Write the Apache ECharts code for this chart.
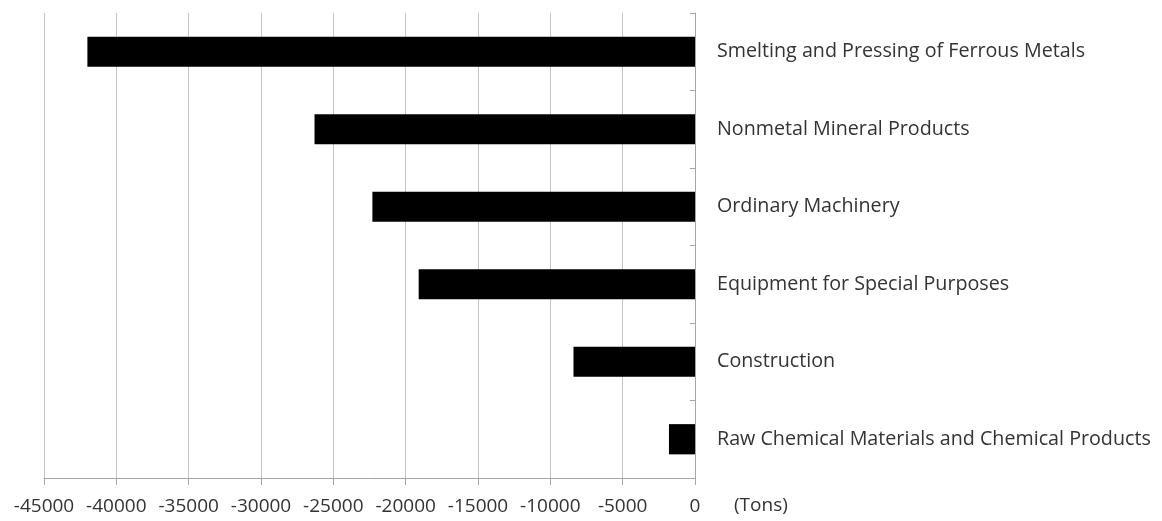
<!DOCTYPE html>
<html>
<head>
<meta charset="utf-8">
<script src="https://cdn.jsdelivr.net/npm/echarts@6/dist/echarts.min.js"></script>
<style>
  html, body { margin: 0; padding: 0; background: #fff; }
  #chart { width: 1162px; height: 521px; }
</style>
</head>
<body>
<div id="chart"></div>
<script>
const categories = [
  'Smelting and Pressing of Ferrous Metals',
  'Nonmetal Mineral Products',
  'Ordinary Machinery',
  'Equipment for Special Purposes',
  'Construction',
  'Raw Chemical Materials and Chemical Products'
]
const values = [-42000, -26300, -22300, -19100, -8400, -1800]
const axisMin = -45000
const axisMax = 0
const axisStep = 5000
const unitLabel = '(Tons)'

const chart = echarts.init(document.getElementById('chart'))

const textFont = 'Open Sans'

chart.setOption({
  animation: false,
  grid: { left: 44, right: 467, top: 13, bottom: 43 },
  xAxis: {
    type: 'value',
    min: axisMin,
    max: axisMax,
    interval: axisStep,
    axisLine: { show: true, lineStyle: { color: '#a6a6a6', width: 1 } },
    axisTick: { show: true, length: 7, lineStyle: { color: '#a6a6a6' } },
    axisLabel: {
      color: '#333',
      fontSize: 19,
      fontFamily: textFont,
      margin: 19,
      formatter: (v) => String(v)
    },
    splitLine: { show: true, lineStyle: { color: '#c4c4c4', width: 1 } }
  },
  yAxis: {
    type: 'category',
    data: categories,
    inverse: true,
    position: 'right',
    axisLine: { show: true, lineStyle: { color: '#a6a6a6', width: 1 } },
    axisTick: { show: true, inside: true, length: 5, lineStyle: { color: '#a6a6a6' } },
    axisLabel: { color: '#333', fontSize: 19.7, fontFamily: textFont, margin: 22, padding: [3, 0, 0, 0] },
    splitLine: { show: false }
  },
  series: [{
    type: 'bar',
    data: values,
    barWidth: '39%',
    itemStyle: { color: '#000' }
  }],
  graphic: [{
    type: 'text',
    left: 734,
    top: 496,
    style: { text: unitLabel, fill: '#333', fontSize: 19, fontFamily: textFont }
  }]
})
</script>
</body>
</html>
